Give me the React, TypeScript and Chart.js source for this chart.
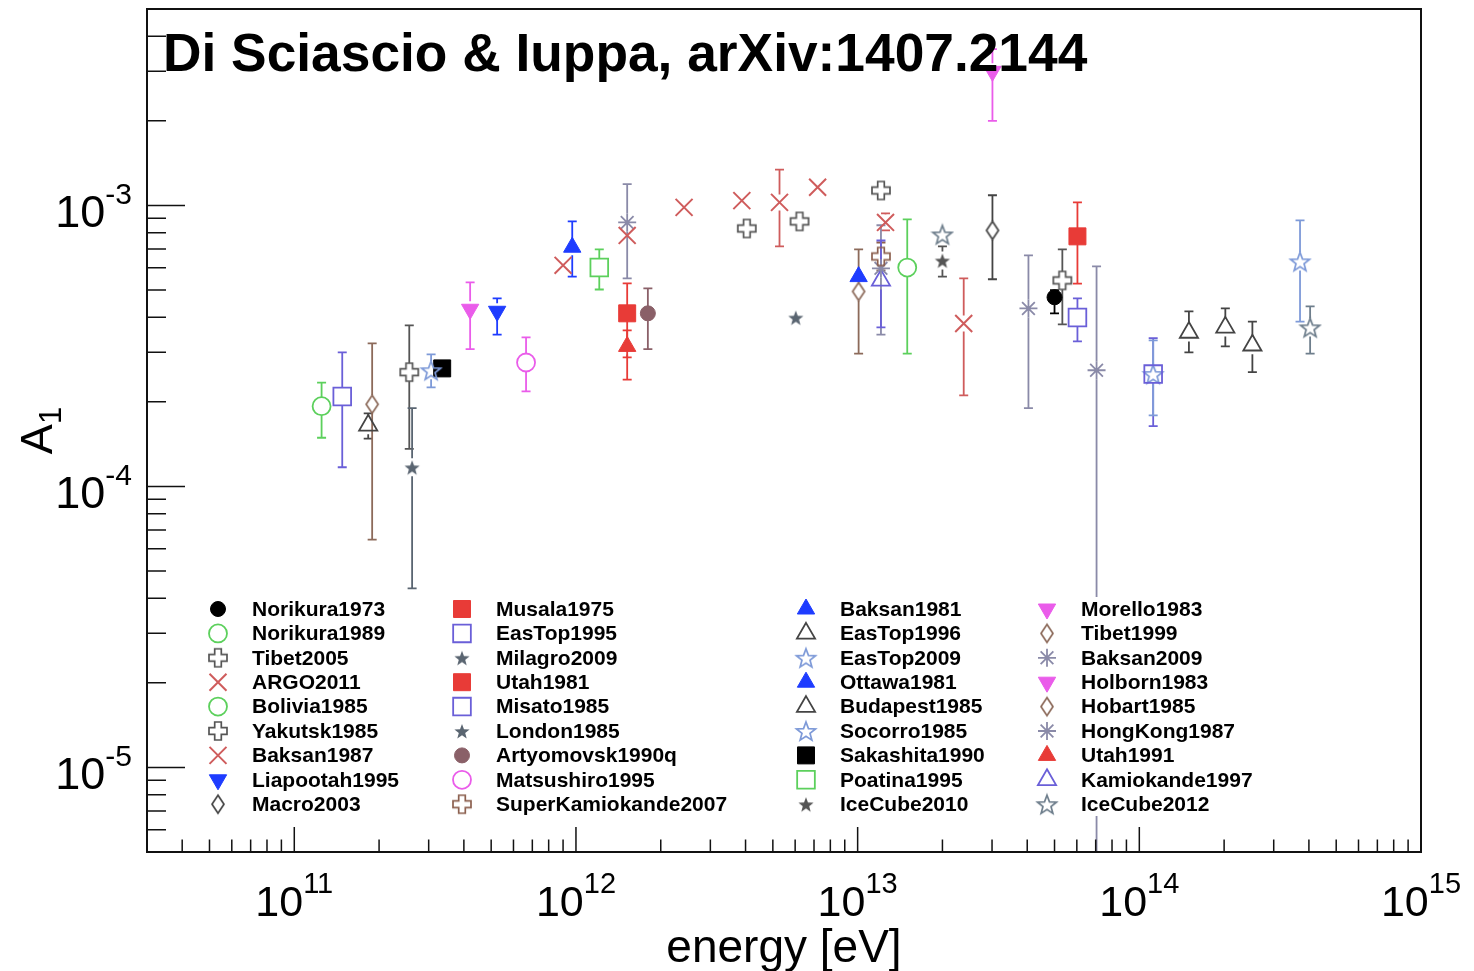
import React, { useEffect, useRef } from 'react';
import { Chart, registerables } from 'chart.js';
import { drawPoint } from 'chart.js/helpers';

Chart.register(...registerables);

// Each point: [energy (eV), A1, lower bound, upper bound]; two-element points have no error bar.
type Pt = number[];

const norikura1973: Pt[] = [[5.0e13, 4.71e-4, 4.13e-4, 4.99e-4]];
const norikura1989: Pt[] = [[1.5e13, 6.01e-4, 2.97e-4, 8.92e-4]];
const tibet2005: Pt[] = [[4.04e12, 8.28e-4], [6.22e12, 8.77e-4], [1.21e13, 1.13e-3]];
const argo2011: Pt[] = [[1.52e12, 7.82e-4], [2.42e12, 9.84e-4], [3.88e12, 1.04e-3], [7.21e12, 1.16e-3], [1.256e13, 8.7e-4, 8.15e-4, 9.37e-4]];
const bolivia1985: Pt[] = [[1.25e11, 1.93e-4, 1.49e-4, 2.34e-4]];
const yakutsk1985: Pt[] = [[2.56e11, 2.55e-4, 1.36e-4, 3.74e-4], [5.33e13, 5.41e-4, 3.77e-4, 6.97e-4]];
const baksan1987: Pt[] = [[9.0e11, 6.12e-4], [5.28e12, 1.025e-3, 7.15e-4, 1.34e-3], [2.38e13, 3.8e-4, 2.11e-4, 5.5e-4]];
const liapootah1995: Pt[] = [[5.25e11, 4.2e-4, 3.47e-4, 4.67e-4]];
const macro2003: Pt[] = [[3.01e13, 8.15e-4, 5.46e-4, 1.087e-3]];

const musala1975: Pt[] = [[6.03e13, 7.76e-4, 5.27e-4, 1.025e-3]];
const easTop1995: Pt[] = [[6.03e13, 3.99e-4, 3.28e-4, 4.67e-4], [1.12e14, 2.51e-4, 1.64e-4, 3.37e-4]];
const milagro2009: Pt[] = [[6.03e12, 3.99e-4]];
const utah1981: Pt[] = [[1.52e12, 4.13e-4, 2.88e-4, 5.28e-4]];
const misato1985: Pt[] = [[1.48e11, 2.09e-4, 1.17e-4, 3.0e-4]];
const london1985: Pt[] = [[2.62e11, 1.17e-4, 4.34e-5, 1.9e-4]];
const artyomovsk1990q: Pt[] = [[1.8e12, 4.13e-4, 3.08e-4, 5.07e-4]];
const matsushiro1995: Pt[] = [[6.65e11, 2.76e-4, 2.18e-4, 3.39e-4]];
const superKamiokande2007: Pt[] = [[1.21e13, 6.58e-4, 5.87e-4, 7.38e-4]];

const baksan1981: Pt[] = [[1.008e13, 5.58e-4]];
const easTop1996: Pt[] = [[1.5e14, 3.53e-4, 3.0e-4, 4.2e-4], [2.02e14, 3.68e-4, 3.15e-4, 4.3e-4], [2.52e14, 3.18e-4, 2.55e-4, 3.86e-4]];
const easTop2009: Pt[] = [[1.12e14, 2.51e-4, 1.79e-4, 3.31e-4], [3.72e14, 6.32e-4, 3.86e-4, 8.85e-4]];
const ottawa1981: Pt[] = [[9.7e11, 7.1e-4, 5.58e-4, 8.77e-4]];
const budapest1985: Pt[] = [[1.83e11, 1.65e-4, 1.48e-4, 1.82e-4]];
const socorro1985: Pt[] = [[3.06e11, 2.59e-4, 2.25e-4, 2.95e-4]];
const sakashita1990: Pt[] = [[3.35e11, 2.63e-4]];
const poatina1995: Pt[] = [[1.21e12, 6.01e-4, 5.02e-4, 6.97e-4]];
const iceCube2010: Pt[] = [[2.0e13, 6.37e-4, 5.58e-4, 7.15e-4]];

const morello1983: Pt[] = [[3.01e13, 3.0e-3, 2.0e-3, 3.6e-3]];
const tibet1999: Pt[] = [[1.008e13, 4.94e-4, 2.97e-4, 6.97e-4]];
const baksan2009: Pt[] = [[4.04e13, 4.3e-4, 1.9e-4, 6.64e-4]];
const holborn1983: Pt[] = [[4.21e11, 4.27e-4, 3.08e-4, 5.32e-4]];
const hobart1985: Pt[] = [[1.89e11, 1.96e-4, 6.47e-5, 3.23e-4]];
const hongKong1987: Pt[] = [[1.52e12, 8.7e-4, 5.5e-4, 1.19e-3], [1.21e13, 5.97e-4, 3.47e-4, 8.5e-4], [7.05e13, 2.59e-4, 2.0e-6, 6.07e-4]];
const utah1991: Pt[] = [[1.52e12, 3.15e-4, 2.4e-4, 3.59e-4]];
const kamiokande1997: Pt[] = [[1.21e13, 5.41e-4, 3.68e-4, 7.5e-4]];
const iceCube2012: Pt[] = [[2.0e13, 7.88e-4], [4.04e14, 3.68e-4, 2.97e-4, 4.37e-4]];

// Axis ranges and decade labels
const xRange = [3e10, 1e15];
const yRange = [5e-6, 5e-3];
const xLabelExponents = [11, 12, 13, 14, 15];
const yLabelExponents = [-5, -4, -3];

const TITLE = 'Di Sciascio & Iuppa, arXiv:1407.2144';
const X_TITLE = 'energy [eV]';

const BLACK = '#000000';
const GREEN = '#5cd05c';
const GRAY = '#555555';
const REDX = '#cf5c5c';
const BLUE = '#1e3cff';
const DGRAY = '#444444';
const RED = '#e83b37';
const VIOLET = '#6a5fd8';
const SLATE = '#5a6571';
const MAUVE = '#8a6068';
const MAGENTA = '#ea5cea';
const BROWN = '#8c604f';
const LBLUE = '#7e9ad8';
const STEEL = '#6e7e8c';
const ASTER = '#8a8aa8';
const DIAM = '#8c6a5a';

type Series = { label: string; data: Pt[]; marker: string; color: string };

// Legend order: four columns of nine entries, filled column by column
const series: Series[] = [
  { label: 'Norikura1973', data: norikura1973, marker: 'circleFilled', color: BLACK },
  { label: 'Norikura1989', data: norikura1989, marker: 'circleOpen', color: GREEN },
  { label: 'Tibet2005', data: tibet2005, marker: 'crossOpen', color: GRAY },
  { label: 'ARGO2011', data: argo2011, marker: 'x', color: REDX },
  { label: 'Bolivia1985', data: bolivia1985, marker: 'circleOpen', color: GREEN },
  { label: 'Yakutsk1985', data: yakutsk1985, marker: 'crossOpen', color: GRAY },
  { label: 'Baksan1987', data: baksan1987, marker: 'x', color: REDX },
  { label: 'Liapootah1995', data: liapootah1995, marker: 'triDownFilled', color: BLUE },
  { label: 'Macro2003', data: macro2003, marker: 'diamondOpen', color: DGRAY },

  { label: 'Musala1975', data: musala1975, marker: 'squareFilled', color: RED },
  { label: 'EasTop1995', data: easTop1995, marker: 'squareOpen', color: VIOLET },
  { label: 'Milagro2009', data: milagro2009, marker: 'starFilled', color: SLATE },
  { label: 'Utah1981', data: utah1981, marker: 'squareFilled', color: RED },
  { label: 'Misato1985', data: misato1985, marker: 'squareOpen', color: VIOLET },
  { label: 'London1985', data: london1985, marker: 'starFilled', color: SLATE },
  { label: 'Artyomovsk1990q', data: artyomovsk1990q, marker: 'circleFilled', color: MAUVE },
  { label: 'Matsushiro1995', data: matsushiro1995, marker: 'circleOpen', color: MAGENTA },
  { label: 'SuperKamiokande2007', data: superKamiokande2007, marker: 'crossOpen', color: BROWN },

  { label: 'Baksan1981', data: baksan1981, marker: 'triUpFilled', color: BLUE },
  { label: 'EasTop1996', data: easTop1996, marker: 'triUpOpen', color: DGRAY },
  { label: 'EasTop2009', data: easTop2009, marker: 'starOpen', color: LBLUE },
  { label: 'Ottawa1981', data: ottawa1981, marker: 'triUpFilled', color: BLUE },
  { label: 'Budapest1985', data: budapest1985, marker: 'triUpOpen', color: DGRAY },
  { label: 'Socorro1985', data: socorro1985, marker: 'starOpen', color: LBLUE },
  { label: 'Sakashita1990', data: sakashita1990, marker: 'squareFilled', color: BLACK },
  { label: 'Poatina1995', data: poatina1995, marker: 'squareOpen', color: GREEN },
  { label: 'IceCube2010', data: iceCube2010, marker: 'starFilled', color: GRAY },

  { label: 'Morello1983', data: morello1983, marker: 'triDownFilled', color: MAGENTA },
  { label: 'Tibet1999', data: tibet1999, marker: 'diamondOpen', color: DIAM },
  { label: 'Baksan2009', data: baksan2009, marker: 'asterisk', color: ASTER },
  { label: 'Holborn1983', data: holborn1983, marker: 'triDownFilled', color: MAGENTA },
  { label: 'Hobart1985', data: hobart1985, marker: 'diamondOpen', color: DIAM },
  { label: 'HongKong1987', data: hongKong1987, marker: 'asterisk', color: ASTER },
  { label: 'Utah1991', data: utah1991, marker: 'triUpFilled', color: RED },
  { label: 'Kamiokande1997', data: kamiokande1997, marker: 'triUpOpen', color: VIOLET },
  { label: 'IceCube2012', data: iceCube2012, marker: 'starOpen', color: STEEL },
];

const FONT = '"Liberation Sans", Arial, Helvetica, sans-serif';

// Offscreen sprites for marker shapes Chart.js does not provide
function sprite(kind: string, color: string): HTMLCanvasElement {
  const s = 24;
  const c = document.createElement('canvas');
  c.width = s;
  c.height = s;
  const g = c.getContext('2d')!;
  g.translate(s / 2, s / 2);
  g.strokeStyle = color;
  g.fillStyle = color;
  g.lineWidth = 1.7;
  g.beginPath();
  if (kind === 'crossOpen') {
    const h = 9, w = 3.3;
    const pts = [[-w, -h], [w, -h], [w, -w], [h, -w], [h, w], [w, w], [w, h], [-w, h], [-w, w], [-h, w], [-h, -w], [-w, -w]];
    pts.forEach(([px, py], i) => (i ? g.lineTo(px, py) : g.moveTo(px, py)));
    g.closePath();
    g.stroke();
  } else if (kind === 'starOpen' || kind === 'starFilled') {
    const R = kind === 'starOpen' ? 10 : 8;
    const r = R * 0.42;
    for (let i = 0; i < 10; i++) {
      const ang = -Math.PI / 2 + (i * Math.PI) / 5;
      const rr = i % 2 ? r : R;
      const px = Math.cos(ang) * rr, py = Math.sin(ang) * rr + 1;
      if (i) g.lineTo(px, py); else g.moveTo(px, py);
    }
    g.closePath();
    if (kind === 'starOpen') g.stroke(); else g.fill();
  } else if (kind === 'diamondOpen') {
    g.moveTo(0, -9);
    g.lineTo(6, 0);
    g.lineTo(0, 9);
    g.lineTo(-6, 0);
    g.closePath();
    g.stroke();
  }
  return c;
}

type Spec = { style: any; radius: number; rotation: number; fill: string; lineWidth: number; gap: number };

function markerSpec(marker: string, color: string): Spec {
  const none = 'rgba(0,0,0,0)';
  switch (marker) {
    case 'circleFilled': return { style: 'circle', radius: 7.5, rotation: 0, fill: color, lineWidth: 1, gap: 7 };
    case 'circleOpen': return { style: 'circle', radius: 9, rotation: 0, fill: none, lineWidth: 1.8, gap: 9 };
    case 'squareFilled': return { style: 'rect', radius: 12, rotation: 0, fill: color, lineWidth: 1, gap: 8 };
    case 'squareOpen': return { style: 'rect', radius: 12.5, rotation: 0, fill: none, lineWidth: 1.8, gap: 9 };
    case 'triUpFilled': return { style: 'triangle', radius: 10, rotation: 0, fill: color, lineWidth: 1, gap: 8 };
    case 'triDownFilled': return { style: 'triangle', radius: 10, rotation: 180, fill: color, lineWidth: 1, gap: 8 };
    case 'triUpOpen': return { style: 'triangle', radius: 10.5, rotation: 0, fill: none, lineWidth: 1.8, gap: 9 };
    case 'x': return { style: 'crossRot', radius: 12, rotation: 0, fill: none, lineWidth: 2, gap: 8 };
    case 'asterisk': return { style: 'star', radius: 9, rotation: 0, fill: none, lineWidth: 1.8, gap: 9 };
    default: return { style: sprite(marker, color), radius: 10, rotation: 0, fill: none, lineWidth: 1.7, gap: 9 };
  }
}

// Marker column positions of the legend, relative to the plot's left edge
const legendMarkerOffsets = [71, 315, 659, 900];

function drawPower(ctx: CanvasRenderingContext2D, exp: number, left: number, baseY: number, supY: number, big: number, small: number) {
  ctx.font = `${big}px ${FONT}`;
  const wb = ctx.measureText('10').width;
  ctx.fillText('10', left, baseY);
  ctx.font = `${small}px ${FONT}`;
  ctx.fillText(String(exp), left + wb, supY);
}

function powerWidth(ctx: CanvasRenderingContext2D, exp: number, big: number, small: number) {
  ctx.font = `${big}px ${FONT}`;
  const wb = ctx.measureText('10').width;
  ctx.font = `${small}px ${FONT}`;
  return wb + ctx.measureText(String(exp)).width;
}

const rootStyle = {
  id: 'rootStyle',
  beforeDatasetsDraw(chart: any) {
    const { ctx, chartArea: a } = chart;
    const xs = chart.scales.x, ys = chart.scales.y;
    ctx.save();
    ctx.beginPath();
    ctx.rect(a.left, a.top, a.right - a.left, a.bottom - a.top);
    ctx.clip();
    ctx.lineWidth = 1.8;
    chart.data.datasets.forEach((ds: any) => {
      ctx.strokeStyle = ds.errColor;
      ds.data.forEach((p: any) => {
        if (p.lo === p.y && p.hi === p.y) return;
        const px = xs.getPixelForValue(p.x);
        const py = ys.getPixelForValue(p.y);
        const pHi = ys.getPixelForValue(p.hi);
        const pLo = ys.getPixelForValue(p.lo);
        const g = ds.errGap, c = 4.5;
        ctx.beginPath();
        if (pHi < py - g) { ctx.moveTo(px, py - g); ctx.lineTo(px, pHi); }
        if (pLo > py + g) { ctx.moveTo(px, py + g); ctx.lineTo(px, pLo); }
        ctx.moveTo(px - c, pHi); ctx.lineTo(px + c, pHi);
        ctx.moveTo(px - c, pLo); ctx.lineTo(px + c, pLo);
        ctx.stroke();
      });
    });
    ctx.restore();
  },
  afterDatasetsDraw(chart: any) {
    const { ctx, chartArea: a } = chart;
    const xs = chart.scales.x, ys = chart.scales.y;
    ctx.save();

    // legend box
    ctx.fillStyle = '#ffffff';
    ctx.fillRect(a.left + 48, a.bottom - 255, 1070, 219);
    chart.data.datasets.forEach((ds: any, i: number) => {
      const col = Math.floor(i / 9), row = i % 9;
      const mx = a.left + legendMarkerOffsets[col];
      const my = a.bottom - 243 + row * 24.4;
      ctx.fillStyle = ds.pointBackgroundColor;
      ctx.strokeStyle = ds.pointBorderColor;
      ctx.lineWidth = ds.pointBorderWidth;
      drawPoint(ctx, { pointStyle: ds.pointStyle, radius: ds.pointRadius, rotation: ds.pointRotation, borderWidth: ds.pointBorderWidth } as any, mx, my);
      ctx.fillStyle = '#000';
      ctx.font = `bold 21px ${FONT}`;
      ctx.textAlign = 'left';
      ctx.textBaseline = 'middle';
      ctx.fillText(ds.label, mx + 34, my + 1);
    });

    // frame
    ctx.strokeStyle = '#111';
    ctx.lineWidth = 2;
    ctx.strokeRect(a.left, a.top, a.right - a.left, a.bottom - a.top);

    // ticks pointing into the frame
    ctx.lineWidth = 1.5;
    ctx.beginPath();
    for (let e = 10; e <= 15; e++) {
      for (let m = 1; m <= 9; m++) {
        const v = m * Math.pow(10, e);
        if (v < xRange[0] * 0.999 || v > xRange[1] * 1.001) continue;
        const px = xs.getPixelForValue(v);
        const len = m === 1 ? 25 : 12.5;
        ctx.moveTo(px, a.bottom);
        ctx.lineTo(px, a.bottom - len);
      }
    }
    for (let e = -6; e <= -3; e++) {
      for (let m = 1; m <= 9; m++) {
        const v = m * Math.pow(10, e);
        if (v < yRange[0] * 0.999 || v > yRange[1] * 1.001) continue;
        const py = ys.getPixelForValue(v);
        const len = m === 1 ? 38 : 19;
        ctx.moveTo(a.left, py);
        ctx.lineTo(a.left + len, py);
      }
    }
    ctx.stroke();

    // decade labels
    ctx.fillStyle = '#000';
    ctx.textAlign = 'left';
    ctx.textBaseline = 'alphabetic';
    xLabelExponents.forEach((exp) => {
      const px = xs.getPixelForValue(Math.pow(10, exp));
      const w = powerWidth(ctx, exp, 43, 29);
      drawPower(ctx, exp, px - w / 2, a.bottom + 64, a.bottom + 41, 43, 29);
    });
    yLabelExponents.forEach((exp) => {
      const py = ys.getPixelForValue(Math.pow(10, exp));
      const w = powerWidth(ctx, exp, 45, 30);
      drawPower(ctx, exp, a.left - 15 - w, py + 22, py - 1, 45, 30);
    });

    // axis titles
    ctx.font = `46px ${FONT}`;
    ctx.textAlign = 'center';
    ctx.fillText(X_TITLE, (a.left + a.right) / 2, a.bottom + 110);

    ctx.save();
    ctx.translate(52, (a.top + a.bottom) / 2);
    ctx.rotate(-Math.PI / 2);
    ctx.textAlign = 'left';
    ctx.font = `45px ${FONT}`;
    const wA = ctx.measureText('A').width;
    ctx.font = `31px ${FONT}`;
    const w1 = ctx.measureText('1').width;
    const start = -(wA + w1) / 2;
    ctx.font = `45px ${FONT}`;
    ctx.fillText('A', start, 0);
    ctx.font = `31px ${FONT}`;
    ctx.fillText('1', start + wA, 9);
    ctx.restore();

    // title
    ctx.font = `bold 53.3px ${FONT}`;
    ctx.textAlign = 'left';
    ctx.fillText(TITLE, a.left + 16, a.top + 62);

    ctx.restore();
  },
};

export default function App() {
  const ref = useRef<HTMLCanvasElement>(null);
  useEffect(() => {
    const canvas = ref.current!;
    const datasets = series.map((s) => {
      const m = markerSpec(s.marker, s.color);
      return {
        label: s.label,
        data: s.data.map((p) => ({ x: p[0], y: p[1], lo: p.length > 2 ? p[2] : p[1], hi: p.length > 3 ? p[3] : p[1] })),
        pointStyle: m.style,
        pointRadius: m.radius,
        pointHoverRadius: m.radius,
        pointRotation: m.rotation,
        pointBackgroundColor: m.fill,
        pointBorderColor: s.color,
        pointBorderWidth: m.lineWidth,
        pointHoverBorderWidth: m.lineWidth,
        errGap: m.gap,
        errColor: s.color,
      };
    });
    const chart = new Chart(canvas, {
      type: 'scatter',
      data: { datasets } as any,
      options: {
        animation: false,
        responsive: false,
        devicePixelRatio: 1,
        events: [],
        layout: { autoPadding: false, padding: { left: 147, right: 53, top: 9, bottom: 119 } },
        scales: {
          x: { type: 'logarithmic', min: xRange[0], max: xRange[1], display: false },
          y: { type: 'logarithmic', min: yRange[0], max: yRange[1], display: false },
        },
        plugins: { legend: { display: false }, tooltip: { enabled: false }, title: { display: false } },
      } as any,
      plugins: [rootStyle],
    });
    return () => chart.destroy();
  }, []);
  return (
    <div style={{ position: 'fixed', left: 0, top: 0, width: 1474, height: 971, background: '#ffffff' }}>
      <canvas ref={ref} width={1474} height={971} style={{ width: 1474, height: 971, display: 'block' }} />
    </div>
  );
}
